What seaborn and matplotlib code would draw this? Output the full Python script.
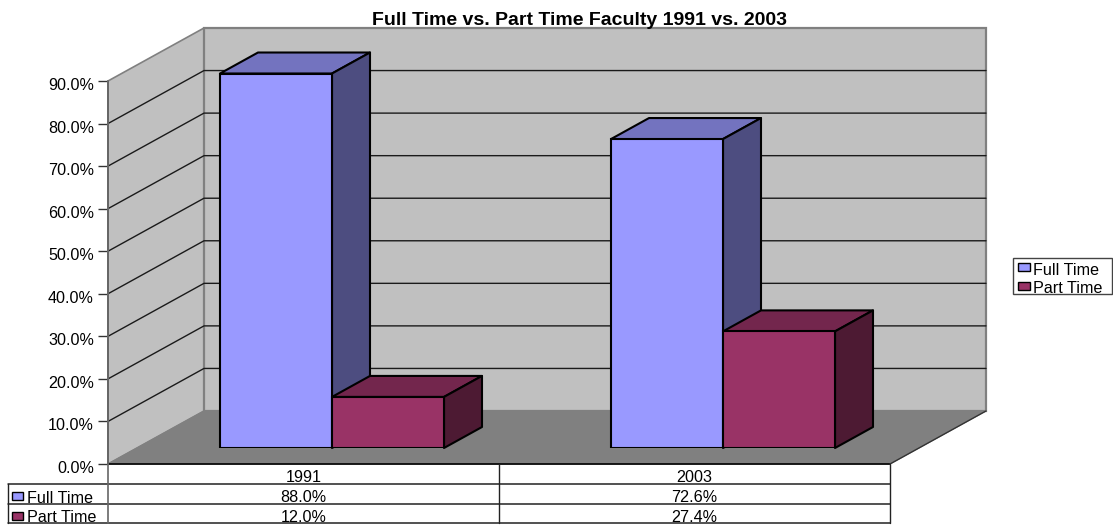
import matplotlib
matplotlib.use('Agg')
import matplotlib.pyplot as plt
import matplotlib.transforms as mtrans
import pandas as pd
import seaborn as sns
from matplotlib.patches import Polygon, Rectangle

# data
years = ['1991', '2003']
full_time = [88.0, 72.6]
part_time = [12.0, 27.4]
series_names = ['Full Time', 'Part Time']
yticks = [0, 10, 20, 30, 40, 50, 60, 70, 80, 90]

front_colors = ['#9999FF', '#993366']
top_colors = ['#7373BF', '#73264D']
side_colors = ['#4D4D80', '#4D1A33']

W, H = 1113, 527
sns.set_theme(style='white')
plt.rcParams['font.family'] = ['Liberation Sans', 'DejaVu Sans']
FS = 11.6

df = pd.DataFrame({
    'year': years * 2,
    'series': [series_names[0]] * 2 + [series_names[1]] * 2,
    'value': full_time + part_time,
})

fig = plt.figure(figsize=(W / 100, H / 100), dpi=100)


def box(left, right, bottom_y, top_y):
    # pixel box, y measured from the top of the picture
    return [left / W, 1 - bottom_y / H, (right - left) / W, (bottom_y - top_y) / H]


# front plane of the 3d box
ax = fig.add_axes(box(108, 890, 464, 81))
ax.set_xlim(-0.5, 1.5)
ax.set_ylim(0, 90)
ax.patch.set_visible(False)
for s in ax.spines.values():
    s.set_visible(False)
ax.set_xticks([])
ax.set_yticks(yticks)
ax.set_yticklabels([f'{t:.1f}%' for t in yticks], fontsize=FS, color='black')
ax.tick_params(axis='y', length=7.2, width=1.0, color='#333333', pad=3, left=True)
# labels sit a little under their ticks
shift = mtrans.ScaledTranslation(0, -3 / 100, fig.dpi_scale_trans)
for lab in ax.get_yticklabels():
    lab.set_transform(lab.get_transform() + shift)

# depth of the whole box in data units (96 px across, 53 px up)
depth_x = 96 * 2 / 782
depth_y = 53 * 90 / 383

wall = '#C0C0C0'
edge = '#808080'
ax.add_patch(Polygon([(-0.5, 0), (-0.5 + depth_x, depth_y), (-0.5 + depth_x, 90 + depth_y), (-0.5, 90)],
                     closed=True, fc=wall, ec=edge, lw=1.2, clip_on=False, zorder=1))
ax.add_patch(Polygon([(-0.5 + depth_x, depth_y), (1.5 + depth_x, depth_y), (1.5 + depth_x, 90 + depth_y), (-0.5 + depth_x, 90 + depth_y)],
                     closed=True, fc=wall, ec=edge, lw=1.6, clip_on=False, zorder=1))
ax.add_patch(Polygon([(-0.5, 0), (1.5, 0), (1.5 + depth_x, depth_y), (-0.5 + depth_x, depth_y)],
                     closed=True, fc=edge, ec=edge, lw=0.8, clip_on=False, zorder=2))
for t in yticks[1:-1]:
    ax.plot([-0.5, -0.5 + depth_x, 1.5 + depth_x], [t, t + depth_y, t + depth_y],
            color='#1a1a1a', lw=1.0, clip_on=False, zorder=2)
ax.plot([-0.5, 1.5], [0, 0], color='black', lw=1.2, clip_on=False, zorder=3)
ax.plot([1.5, 1.5 + depth_x], [0, depth_y], color='#333333', lw=1.0, clip_on=False, zorder=3)
ax.plot([-0.5, -0.5], [0, 90], color='#666666', lw=1.4, clip_on=False, zorder=3)

# bars live on a plane pushed back into the box
ax_bars = fig.add_axes(box(108 + 28.5, 890 + 28.5, 448, 65))
ax_bars.patch.set_visible(False)
sns.barplot(data=df, x='year', y='value', hue='series', order=years, hue_order=series_names,
            palette=front_colors, width=224 / 391, saturation=1, edgecolor='black', linewidth=1.5,
            legend=False, ax=ax_bars, zorder=5)
ax_bars.set_xlim(-0.5, 1.5)
ax_bars.set_ylim(0, 90)
ax_bars.axis('off')

bar_dx = 38 * 2 / 782
bar_dy = 21 * 90 / 383
n_years = len(years)
for i, p in enumerate(ax_bars.patches[:2 * n_years]):
    k = i // n_years
    x0, x1, h = p.get_x(), p.get_x() + p.get_width(), p.get_height()
    ax_bars.add_patch(Polygon([(x0, h), (x1, h), (x1 + bar_dx, h + bar_dy), (x0 + bar_dx, h + bar_dy)],
                              closed=True, fc=top_colors[k], ec='black', lw=1.5, clip_on=False,
                              joinstyle='round', zorder=4))
    ax_bars.add_patch(Polygon([(x1, 0), (x1 + bar_dx, bar_dy), (x1 + bar_dx, h + bar_dy), (x1, h)],
                              closed=True, fc=side_colors[k], ec='black', lw=1.5, clip_on=False,
                              joinstyle='round', zorder=4))

# data table under the chart, one axes in pixel units
tab = fig.add_axes([0, 0, 1, 1], zorder=10)
tab.set_xlim(0, W)
tab.set_ylim(H, 0)
tab.axis('off')
row_y = [464, 484, 504, 523]
col_x = [108, 499, 890]
left_x = 8
for y in row_y[1:]:
    tab.plot([left_x, col_x[-1]], [y, y], color='#222222', lw=1.1)
tab.plot([left_x, left_x], [row_y[1], row_y[3]], color='#222222', lw=1.0)
tab.plot([col_x[0], col_x[0]], [row_y[0], row_y[3]], color='#666666', lw=1.2)
for x in col_x[1:]:
    tab.plot([x, x], [row_y[0], row_y[3]], color='#222222', lw=1.0)

for j, yr in enumerate(years):
    cx = (col_x[j] + col_x[j + 1]) / 2
    tab.text(cx, 482, yr, ha='center', va='baseline', fontsize=FS, color='black')
    tab.text(cx, 502.5, f'{full_time[j]:.1f}%', ha='center', va='baseline', fontsize=FS, color='black')
    tab.text(cx, 521.5, f'{part_time[j]:.1f}%', ha='center', va='baseline', fontsize=FS, color='black')

for k, name in enumerate(series_names):
    ry = [492, 512][k]
    tab.add_patch(Rectangle((12, ry), 11, 8, fc=front_colors[k], ec='black', lw=1.0))
    tab.text(27, [503, 522.5][k], name, ha='left', va='baseline', fontsize=FS, color='black')

# legend at the right
tab.add_patch(Rectangle((1013, 258), 99, 36, fc='white', ec='#444444', lw=1.0, zorder=1))
for k, name in enumerate(series_names):
    tab.add_patch(Rectangle((1018, [263, 282][k]), 12, 8, fc=front_colors[k], ec='black', lw=1.0, zorder=2))
    tab.text(1033, [275, 293][k], name, ha='left', va='baseline', fontsize=FS, color='black', zorder=2)

tab.text(580, 25, 'Full Time vs. Part Time Faculty 1991 vs. 2003', ha='center', va='baseline',
         fontsize=14.0, fontweight='bold', color='black')

fig.savefig('out.png', dpi=100)
